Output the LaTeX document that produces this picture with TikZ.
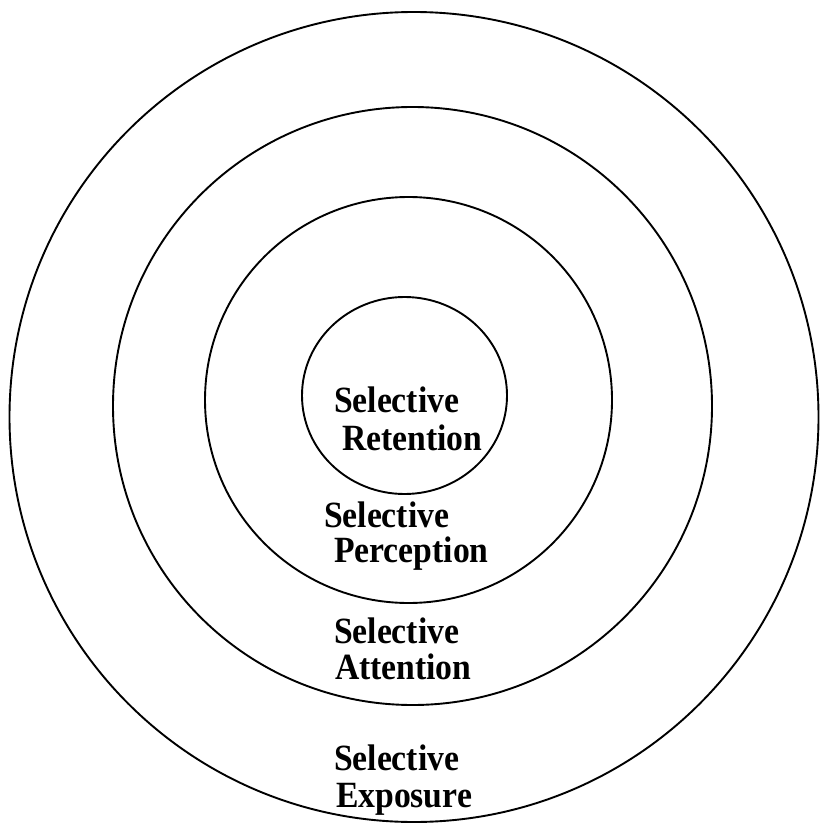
\documentclass[tikz,border=0pt]{standalone}
\usepackage{fontspec}
\setmainfont{Liberation Serif}
\begin{document}
\begin{tikzpicture}[x=1pt,y=-1pt,
  ring/.style={draw=black,line width=1.9pt},
  label/.style={anchor=base west,inner sep=0pt,outer sep=0pt,
    font=\fontsize{37}{38}\selectfont\bfseries}]
\useasboundingbox (0,0) rectangle (819,826);
\fill[white] (0,0) rectangle (819,826);

% concentric rings, outermost first
\draw[ring] (414,417) ellipse [x radius=404.5pt, y radius=405pt];
\draw[ring] (412.5,406) ellipse [x radius=299.5pt, y radius=299pt];
\draw[ring] (408.5,400) ellipse [x radius=203.5pt, y radius=203pt];
\draw[ring] (404.5,395.5) ellipse [x radius=102.5pt, y radius=98.5pt];

% two-line labels, one per ring
\newcommand{\sq}[1]{\scalebox{0.91}[1]{#1}}
\node[label] (ret1) at (334,412) {\sq{Selective}};
\node[label] (ret2) at (342,450) {\sq{Retention}};
\node[label] (per1) at (324,527) {\sq{Selective}};
\node[label] (per2) at (334,562) {\sq{Perception}};
\node[label] (att1) at (334,643) {\sq{Selective}};
\node[label] (att2) at (335,679) {\sq{Attention}};
\node[label] (exp1) at (334,770) {\sq{Selective}};
\node[label] (exp2) at (336,807) {\sq{Exposure}};
\end{tikzpicture}
\end{document}
